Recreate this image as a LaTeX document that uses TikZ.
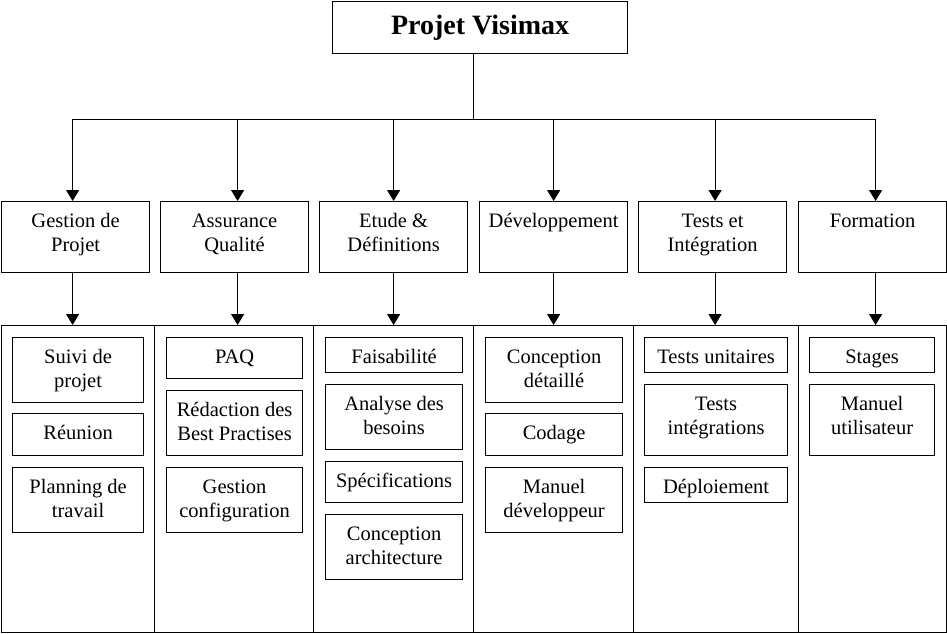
\documentclass[tikz,border=0pt]{standalone}
\usepackage{fontspec}
\setmainfont{Liberation Serif}
\usepackage{tikz}
\usetikzlibrary{calc}
\usetikzlibrary{arrows.meta}

% text of a box: width, height, lines (set at the top)
\newcommand{\boxtext}[3]{\parbox[c][#2pt][t]{#1pt}{\centering\rule{0pt}{25.5pt}#3}}

\tikzset{
  cell/.style={draw, line width=1.2pt, inner sep=0pt, anchor=north west},
  colbox/.style={draw, line width=1.2pt, inner sep=0pt, anchor=north west, minimum height=307},
  arr/.style={line width=1.2pt, -{Triangle[width=13pt,length=11pt]}}
}

\begin{document}
\begin{tikzpicture}[x=1pt,y=-1pt,font=\fontsize{20.5}{24}\selectfont]
				\useasboundingbox (0,0) rectangle (947,633);
				
				% title
				\node[cell, minimum width=295, minimum height=52, font=\bfseries\fontsize{28}{32}\selectfont] (top) at (332,1) {Projet Visimax};
				
				% phases
				\node[cell] (gp) at (1,201) {\boxtext{148}{71}{Gestion de\\Projet}};
				\node[cell] (aq) at (160,201) {\boxtext{148}{71}{Assurance\\Qualité}};
				\node[cell] (ed) at (319,201) {\boxtext{148}{71}{Etude \&\\Définitions}};
				\node[cell] (dv) at (479,201) {\boxtext{148}{71}{Développement}};
				\node[cell] (ti) at (638,201) {\boxtext{148}{71}{Tests et\\Intégration}};
				\node[cell] (fo) at (798,201) {\boxtext{148}{71}{Formation}};
				
				% columns
				\node[colbox, minimum width=153] (c1) at (1,325) {};
				\node[colbox, minimum width=159] (c2) at (154,325) {};
				\node[colbox, minimum width=160] (c3) at (313,325) {};
				\node[colbox, minimum width=160] (c4) at (473,325) {};
				\node[colbox, minimum width=165] (c5) at (633,325) {};
				\node[colbox, minimum width=148] (c6) at (798,325) {};
				
				% tasks
				\node[cell] (suivi) at (12,337) {\boxtext{131}{65}{Suivi de\\projet}};
				\node[cell] (reunion) at (12,413) {\boxtext{131}{42}{Réunion}};
				\node[cell] (planning) at (12,467) {\boxtext{131}{65}{Planning de\\travail}};
				
				\node[cell] (paq) at (166,337) {\boxtext{136}{41}{PAQ}};
				\node[cell] (redaction) at (166,390) {\boxtext{136}{65}{Rédaction des\\Best Practises}};
				\node[cell] (config) at (166,467) {\boxtext{136}{65}{Gestion\\configuration}};
				
				\node[cell] (faisab) at (325,337) {\boxtext{137}{35}{Faisabilité}};
				\node[cell] (analyse) at (325,384) {\boxtext{137}{65}{Analyse des\\besoins}};
				\node[cell] (specs) at (325,461) {\boxtext{137}{41}{Spécifications}};
				\node[cell] (archi) at (325,514) {\boxtext{137}{65}{Conception\\architecture}};
				
				\node[cell] (detail) at (485,337) {\boxtext{137}{65}{Conception\\détaillé}};
				\node[cell] (codage) at (485,413) {\boxtext{137}{42}{Codage}};
				\node[cell] (mandev) at (485,467) {\boxtext{137}{65}{Manuel\\développeur}};
				
				\node[cell] (unit) at (644,337) {\boxtext{143}{35}{Tests unitaires}};
				\node[cell] (integ) at (644,384) {\boxtext{143}{71}{Tests\\intégrations}};
				\node[cell] (deploi) at (644,467) {\boxtext{143}{35}{Déploiement}};
				
				\node[cell] (stages) at (809,337) {\boxtext{125}{35}{Stages}};
				\node[cell] (manuser) at (809,384) {\boxtext{125}{71}{Manuel\\utilisateur}};
				
				% tree
				\coordinate (bus) at ($(top.south)+(-6.5,65)$);
				\draw[line width=1.2pt] ([xshift=-6.5pt]top.south)--(bus);
				\draw[line width=1.2pt] ([xshift=-3pt]gp.north |- bus)--([xshift=3pt]fo.north |- bus);
				\draw[arr] ([xshift=-3pt]gp.north |- bus)--([xshift=-3pt]gp.north);
				\draw[arr] ([xshift=3pt]aq.north |- bus)--([xshift=3pt]aq.north);
				\draw[arr] (ed.north |- bus)--(ed.north);
				\draw[arr] (dv.north |- bus)--(dv.north);
				\draw[arr] ([xshift=2.5pt]ti.north |- bus)--([xshift=2.5pt]ti.north);
				\draw[arr] ([xshift=3pt]fo.north |- bus)--([xshift=3pt]fo.north);
				
				\draw[arr] ([xshift=-3pt]gp.south)--([xshift=-3pt]gp.south |- c1.north);
				\draw[arr] ([xshift=3pt]aq.south)--([xshift=3pt]aq.south |- c2.north);
				\draw[arr] (ed.south)--(ed.south |- c3.north);
				\draw[arr] (dv.south)--(dv.south |- c4.north);
				\draw[arr] ([xshift=2.5pt]ti.south)--([xshift=2.5pt]ti.south |- c5.north);
				\draw[arr] ([xshift=3pt]fo.south)--([xshift=3pt]fo.south |- c6.north);
			\end{tikzpicture}
\end{document}
